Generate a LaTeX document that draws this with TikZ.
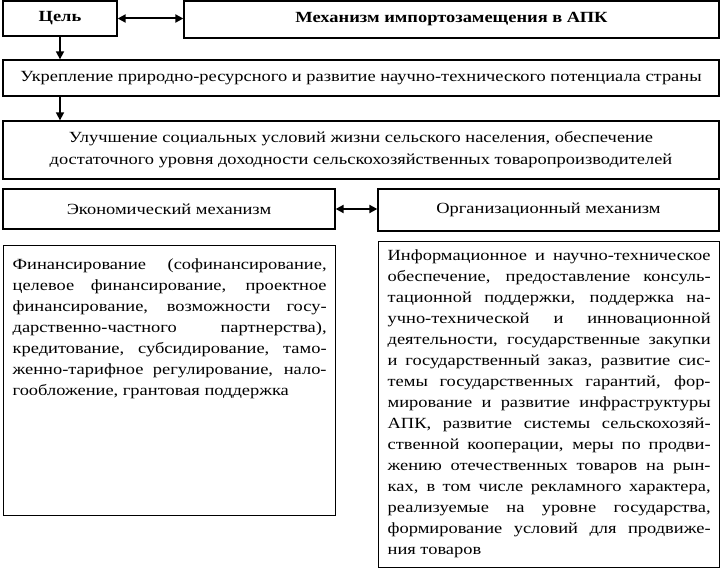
\documentclass[tikz,border=0pt]{standalone}
\usepackage{fontspec}
\setmainfont[FakeStretch=1.19]{Liberation Serif}
\usetikzlibrary{arrows.meta}
\newcommand\jline[1]{\hbox to \linewidth{#1}}
\newcommand\lline[1]{\hbox to \linewidth{#1\hfil}}
\begin{document}
\begin{tikzpicture}[x=1pt,y=-1pt,
  box/.style={draw,line width=1.3pt,inner sep=0pt,font=\fontsize{15.5}{22}\selectfont},
  conn/.style={line width=1.6pt,-{Triangle[length=8pt,width=8pt]}},
  dconn/.style={line width=2pt,{Triangle[length=8pt,width=8pt]}-{Triangle[length=8pt,width=8pt]}}]
\useasboundingbox (0,0) rectangle (724,572);
\node[box,minimum width=114pt,minimum height=35pt,font=\fontsize{15.5}{21}\selectfont\bfseries] (goal) at (60,18.5) {Цель};
\node[box,minimum width=535pt,minimum height=37pt,font=\fontsize{15.5}{21}\selectfont\bfseries] (mech) at (451.5,19.5) {Механизм импортозамещения в АПК};
\node[box,minimum width=716pt,minimum height=36pt] (ukr) at (361,78) {Укрепление природно-ресурсного и развитие научно-технического потенциала страны};
\node[box,minimum width=716pt,minimum height=58pt,align=center] (ulu) at (361,150) {Улучшение социальных условий жизни сельского населения, обеспечение\\достаточного уровня доходности сельскохозяйственных товаропроизводителей};
\node[box,minimum width=332pt,minimum height=40pt] (econ) at (169,209) {Экономический механизм};
\node[box,minimum width=341pt,minimum height=42pt] (org) at (548.5,210) {Организационный механизм};
\node[box,anchor=north west,inner xsep=9pt,inner ysep=0pt,font=\fontsize{15.5}{21}\selectfont] (ectext) at (3,245) {\parbox[t][270pt][t]{314pt}{\vspace*{13pt}%
\jline{Финансирование (софинансирование,}
\jline{целевое финансирование, проектное}
\jline{финансирование, возможности госу-}
\jline{дарственно-частного партнерства),}
\jline{кредитование, субсидирование, тамо-}
\jline{женно-тарифное регулирование, нало-}
\lline{гообложение, грантовая поддержка}}};
\node[box,anchor=north west,inner xsep=9pt,inner ysep=0pt,font=\fontsize{15.5}{21}\selectfont] (ortext) at (378,241) {\parbox[t][326pt][t]{323pt}{\vspace*{8pt}%
\jline{Информационное и научно-техническое}
\jline{обеспечение, предоставление консуль-}
\jline{тационной поддержки, поддержка на-}
\jline{учно-технической и инновационной}
\jline{деятельности, государственные закупки}
\jline{и государственный заказ, развитие сис-}
\jline{темы государственных гарантий, фор-}
\jline{мирование и развитие инфраструктуры}
\jline{АПК, развитие системы сельскохозяй-}
\jline{ственной кооперации, меры по продви-}
\jline{жению отечественных товаров на рын-}
\jline{ках, в том числе рекламного характера,}
\jline{реализуемые на уровне государства,}
\jline{формирование условий для продвиже-}
\lline{ния товаров}}};
\draw[dconn] (goal.east) -- (goal.east -| mech.west);
\draw[conn] (goal.south) -- (ukr.north -| goal.south);
\draw[conn] (ukr.south -| goal.south) -- (ulu.north -| goal.south);
\draw[dconn] (econ.east) -- (econ.east -| org.west);
\end{tikzpicture}
\end{document}
